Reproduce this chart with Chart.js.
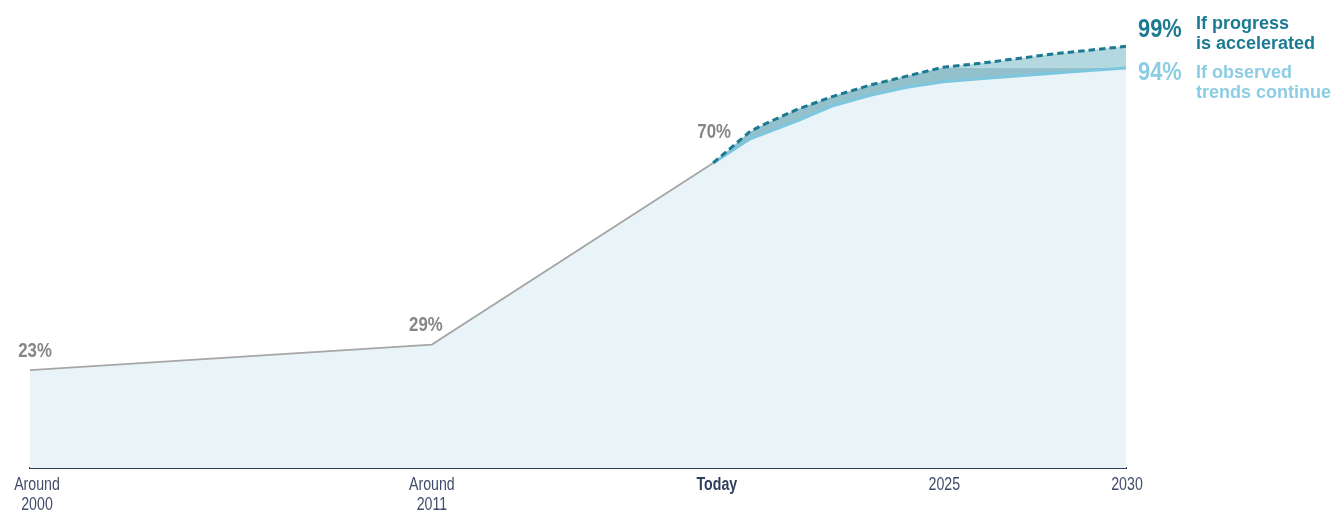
<!DOCTYPE html>
<html>
<head>
<meta charset="utf-8">
<script src="https://cdn.jsdelivr.net/npm/chart.js@4.4.1/dist/chart.umd.min.js"></script>
<style>
  html, body { margin: 0; padding: 0; background: #ffffff; overflow: hidden; }
  #wrap { position: relative; width: 1337px; height: 510px; }
  canvas { display: block; }
</style>
</head>
<body>
<div id="wrap"><canvas id="c" width="1337" height="510"></canvas></div>
<script>
// ---- data ----
const histYears = [2000, 2011, 2018.7];
const histValues = [23, 29, 71.7];
const histLabels = ['23%', '29%', '70%'];

const projYears = [2018.7, 2019.7, 2020, 2021, 2022, 2023, 2024, 2025, 2026, 2027, 2028, 2029, 2030];
const accelerated = [71.7, 79.0, 80.4, 84.3, 87.4, 90.0, 92.1, 94.2, 95.1, 96.2, 97.3, 98.2, 99.1];
const overlapTop = [71.7, 79.0, 80.4, 84.3, 87.4, 90.0, 92.1, 94.1, 94.1, 94.1, 94.1, 94.1, 94.1];
const observed = [71.7, 77.3, 78.3, 81.6, 85.2, 87.6, 89.5, 90.8, 91.5, 92.1, 92.8, 93.4, 94.0];

const tickYears = [2000, 2011, 2018.8, 2025, 2030];
const tickLabels = [['Around', '2000'], ['Around', '2011'], 'Today', '2025', '2030'];
const todayIndex = 2;

const seriesNames = [['If progress', 'is accelerated'], ['If observed', 'trends continue']];

// ---- helpers ----
const pts = (xs, ys) => xs.map((x, i) => ({ x: x, y: ys[i] }));
const SANS = '"Liberation Sans", Arial, Helvetica, sans-serif';

const baseData = pts(histYears.slice(0, 2), histValues.slice(0, 2)).concat(pts(projYears, observed));

// condensed text: draw with horizontal compression
function narrowText(ctx, text, x, y, align, baseline, font, color, squeeze) {
  ctx.save();
  ctx.translate(x, y);
  ctx.scale(squeeze, 1);
  ctx.font = font;
  ctx.fillStyle = color;
  ctx.textAlign = align;
  ctx.textBaseline = baseline;
  ctx.fillText(text, 0, 0);
  ctx.restore();
}

const labelPlugin = {
  id: 'valueLabels',
  afterDatasetsDraw(chart) {
    const { ctx, scales: { x, y } } = chart;
    // x tick labels
    const tickShift = [7, 0, 0, 1, 1];
    x.ticks.forEach((t, i) => {
      const px = x.getPixelForValue(t.value) + tickShift[i];
      const lab = tickLabels[i];
      const lines = Array.isArray(lab) ? lab : [lab];
      const bold = i === todayIndex;
      lines.forEach((ln, k) => {
        narrowText(ctx, ln, px, x.top + 17.5 + k * 19.5, 'center', 'middle',
          (bold ? 'bold ' : '') + '17.5px ' + SANS, bold ? '#2e3d5c' : '#404c69', 0.81);
      });
    });
    // history point labels
    const offs = [[5, -19], [-6, -19], [1, -31]];
    histYears.forEach((yr, i) => {
      const px = x.getPixelForValue(yr) + offs[i][0];
      const py = y.getPixelForValue(histValues[i]) + offs[i][1];
      narrowText(ctx, histLabels[i], px, py, 'center', 'middle', 'bold 20.5px ' + SANS, '#868686', 0.82);
    });
    // end labels
    const ends = [
      { v: accelerated[accelerated.length - 1], color: '#1b7a91', dy: -17, lines: seriesNames[0], ldy: [-17, 3] },
      { v: observed[observed.length - 1], color: '#8dcde3', dy: 5, lines: seriesNames[1], ldy: [10, 30] }
    ];
    const ex = x.getPixelForValue(2030);
    ends.forEach(e => {
      const py = y.getPixelForValue(e.v);
      narrowText(ctx, Math.round(e.v) + '%', ex + 12, py + e.dy, 'left', 'middle', 'bold 26px ' + SANS, e.color, 0.84);
      e.lines.forEach((t, k) => {
        narrowText(ctx, t, ex + 70, py + e.ldy[k], 'left', 'alphabetic', 'bold 18px ' + SANS, e.color, 1);
      });
    });
  }
};

new Chart(document.getElementById('c'), {
  type: 'line',
  data: {
    datasets: [
      { label: 'accelerated', data: pts(projYears, accelerated), borderColor: '#1b7a91', borderWidth: 3,
        borderDash: [6.5, 4], fill: { target: 1 }, backgroundColor: '#b4d8e0', pointRadius: 0, tension: 0 },
      { label: 'overlap', data: pts(projYears, overlapTop), borderWidth: 0, borderColor: 'rgba(0,0,0,0)',
        fill: { target: 2 }, backgroundColor: '#92c1cc', pointRadius: 0, tension: 0 },
      { label: 'observed', data: pts(projYears, observed), borderColor: '#7cc6de', borderWidth: 3,
        fill: false, pointRadius: 0, tension: 0 },
      { label: 'history', data: pts(histYears, histValues), borderColor: '#a6a6a6', borderWidth: 1.8,
        fill: false, pointRadius: 0, tension: 0 },
      { label: 'base', data: baseData, borderWidth: 0, borderColor: 'rgba(0,0,0,0)', fill: 'origin',
        backgroundColor: '#e9f4f9', pointRadius: 0, tension: 0 }
    ]
  },
  options: {
    responsive: false,
    animation: false,
    layout: { padding: { left: 30, right: 211, top: 42.5, bottom: 0 } },
    plugins: {
      legend: { display: false },
      tooltip: { enabled: false },
      filler: { drawTime: 'beforeDatasetsDraw' }
    },
    scales: {
      x: {
        type: 'linear', min: 2000, max: 2030,
        grid: { display: false, drawTicks: false },
        border: { display: true, color: '#2e3d5c', width: 2 },
        afterBuildTicks: s => { s.ticks = tickYears.map(v => ({ value: v })); },
        afterFit: s => { s.height = 42; },
        ticks: { display: false, autoSkip: false }
      },
      y: { display: false, min: 0, max: 100 }
    }
  },
  plugins: [labelPlugin]
});
</script>
</body>
</html>
